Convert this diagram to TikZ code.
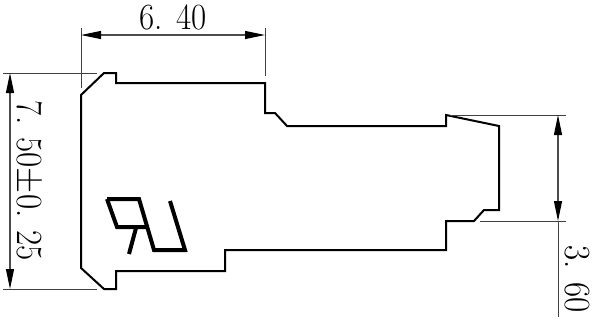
\documentclass[tikz,border=0pt]{standalone}
\usepackage{fontspec}
\usepackage{amsmath}
\usetikzlibrary{arrows.meta}
\newcommand{\dimtxt}[1]{\scalebox{1}[1.12]{#1}}
\tikzset{
  x=1pt,y=-1pt,
  outline/.style={line width=2pt,line join=miter,black},
  logo/.style={line width=4pt,line join=miter,black},
  extline/.style={line width=1pt,black!75},
  dimline/.style={line width=1.1pt,black!70,{Triangle[length=20pt,width=8pt,black]}-{Triangle[length=20pt,width=8pt,black]}},
  dimtext/.style={inner sep=0pt,font=\fontsize{33}{33}\selectfont,black}
}
\begin{document}
\begin{tikzpicture}
\useasboundingbox (0,0) rectangle (597,327);
\draw[outline] (81,268) -- (81,95) -- (104,73) -- (116,73) -- (116,83) -- (265,83) -- (265,113) -- (275,113) -- (287,126) -- (446,126) -- (446,115) -- (499,126) -- (499,210) -- (484,210) -- (474,221) -- (446,221) -- (446,250) -- (225,250) -- (225,271) -- (116,271) -- (116,289) -- (104,289) -- cycle;
\draw[logo] (107,199) -- (139,199) -- (154,250) -- (185,250) -- (170,201);
\draw[logo] (107,199) -- (117,227) -- (146,227);
\draw[logo] (136,228) -- (129,254);
\coordinate (t1) at (81,35);
\coordinate (t2) at (265,35);
\coordinate (l1) at (10,73);
\coordinate (l2) at (10,289);
\coordinate (r1) at (558,115);
\coordinate (r2) at (558,221);
\draw[extline] (81,28) -- (81,88);
\draw[extline] (265,28) -- (265,76);
\draw[extline] (3,73) -- (97,73);
\draw[extline] (3,289) -- (97,289);
\draw[extline] (450,115) -- (566,115);
\draw[extline] (480,221) -- (566,221);
\draw[extline] (558,221) -- (558,317);
\draw[dimline] (t1) -- (t2);
\draw[dimline] (l1) -- (l2);
\draw[dimline] (r1) -- (r2);
\node[dimtext] (a) at (173,17) {\dimtxt{6. 40}};
\node[dimtext,rotate=-90] (b) at (28,181) {\dimtxt{7. 50\scalebox{1.35}{$\pm$}0. 25}};
\node[dimtext,rotate=-90] (c) at (577,279) {\dimtxt{3. 60}};
\end{tikzpicture}
\end{document}
